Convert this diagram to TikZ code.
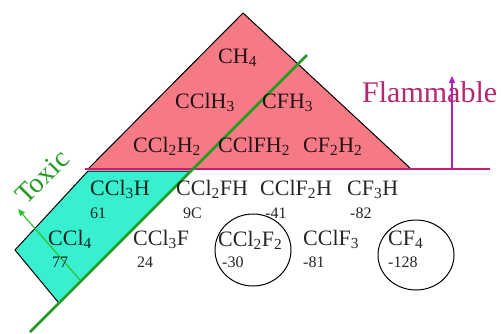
\documentclass[tikz,border=0pt]{standalone}
\usepackage{fontspec}
\setmainfont{Liberation Serif}
\usetikzlibrary{arrows.meta}
\definecolor{pinkfill}{RGB}{246,122,134}
\definecolor{cyanfill}{RGB}{56,240,208}
\definecolor{flamline}{RGB}{200,30,120}
\definecolor{flamtext}{RGB}{180,40,110}
\definecolor{flamarrow}{RGB}{176,30,200}
\definecolor{toxline}{RGB}{34,155,34}
\definecolor{toxarrow}{RGB}{50,190,50}
\tikzset{
  formula/.style={anchor=base west, inner sep=0pt, font=\fontsize{22}{22}\selectfont, text=black, text opacity=0.85},
  bp/.style={anchor=base west, inner sep=0pt, font=\fontsize{16}{16}\selectfont, text=black, text opacity=0.85},
  ring/.style={draw=black, line width=1pt},
}
\begin{document}
\begin{tikzpicture}[x=1pt,y=-1pt]
\useasboundingbox (0,0) rectangle (501,333);
% triangle
\coordinate (apex) at (243,13);
\coordinate (bl) at (89,168);
\coordinate (br) at (410,168);
\fill[pinkfill] (apex) -- (br) -- (bl) -- cycle;
\draw[line width=1pt, line join=round] (bl) -- (apex) -- (br);
% cyan region
\coordinate (c1) at (88,171);
\coordinate (c2) at (15,250);
\coordinate (c3) at (58,302);
\coordinate (c4) at (190,171);
\fill[cyanfill] (c1) -- (c2) -- (c3) -- (c4) -- cycle;
\draw[line width=1pt] (c4) -- (c1) -- (c2) -- (c3);
% flammable line
\coordinate (fl1) at (85,169);
\coordinate (fl2) at (490,169);
\draw[flamline, line width=2.5pt] (fl1) -- (fl2);
\coordinate (fa1) at (452,169);
\coordinate (fa2) at (452,76);
\draw[flamarrow, line width=1.2pt, -{Triangle[length=7pt,width=6pt]}] (fa1) -- (fa2);
\node[text=flamtext, font=\fontsize{30}{30}\selectfont, anchor=base west, inner sep=0pt] (flam) at (362,102) {Flammable};
% toxic line
\coordinate (tl1) at (30,332);
\coordinate (tl2) at (307,55);
\draw[toxline, line width=2.5pt] (tl1) -- (tl2);
\coordinate (ta1) at (80,280);
\coordinate (ta2) at (18,209);
\draw[toxarrow, line width=1.2pt, -{Triangle[length=7pt,width=6pt]}] (ta1) -- (ta2);
\node[text=toxline, font=\fontsize{28}{28}\selectfont, rotate=45, inner sep=0pt] (tox) at (42,177) {Toxic};
% formulas
\node[formula] (ch4) at (218,63) {CH\textsubscript{4}};
\node[formula] (cclh3) at (175,108) {CClH\textsubscript{3}};
\node[formula] (cfh3) at (262,108) {CFH\textsubscript{3}};
\node[formula] (ccl2h2) at (133,152) {CCl\textsubscript{2}H\textsubscript{2}};
\node[formula] (cclfh2) at (218,152) {CClFH\textsubscript{2}};
\node[formula] (cf2h2) at (303,152) {CF\textsubscript{2}H\textsubscript{2}};
\node[formula] (ccl3h) at (90,195) {CCl\textsubscript{3}H};
\node[formula] (ccl2fh) at (176,195) {CCl\textsubscript{2}FH};
\node[formula] (cclf2h) at (260,195) {CClF\textsubscript{2}H};
\node[formula] (cf3h) at (347,195) {CF\textsubscript{3}H};
\node[formula] (ccl4) at (48,245) {CCl\textsubscript{4}};
\node[formula] (ccl3f) at (133,245) {CCl\textsubscript{3}F};
\node[formula] (ccl2f2) at (218,246) {CCl\textsubscript{2}F\textsubscript{2}};
\node[formula] (cclf3) at (303,245) {CClF\textsubscript{3}};
\node[formula] (cf4) at (388,245) {CF\textsubscript{4}};
% boiling points
\node[bp] (b1) at (90,218) {61};
\node[bp] (b2) at (183,218) {9C};
\node[bp] (b3) at (265,218) {-41};
\node[bp] (b4) at (350,218) {-82};
\node[bp] (b5) at (52,267) {77};
\node[bp] (b6) at (137,267) {24};
\node[bp] (b7) at (222,267) {-30};
\node[bp] (b8) at (303,267) {-81};
\node[bp] (b9) at (388,267) {-128};
% rings
\draw[ring] (253,250) ellipse [x radius=38, y radius=36];
\draw[ring] (416,255) ellipse [x radius=38, y radius=35];
\end{tikzpicture}
\end{document}
